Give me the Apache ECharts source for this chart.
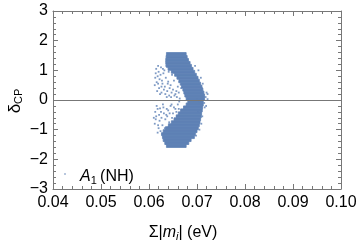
<!DOCTYPE html>
<html><head><meta charset="utf-8">
<script src="https://cdn.jsdelivr.net/npm/echarts@6/dist/echarts.min.js"></script>
<style>html,body{margin:0;padding:0;background:#fff}#c{width:360px;height:241px}</style>
</head><body><div id="c"></div>
<script>
// axis ticks
const xTickValues = [0.04, 0.05, 0.06, 0.07, 0.08, 0.09, 0.10];
const yTickValues = [-3, -2, -1, 0, 1, 2, 3];
// dense part of the scatter cloud, read row by row (delta, x from, x to)
const rowDelta = [1.55,1.45,1.35,1.25,1.15,1.05,0.95,0.85,0.75,0.65,0.55,0.45,0.35,0.25,0.15,0.05,
  -0.05,-0.15,-0.25,-0.35,-0.45,-0.55,-0.65,-0.75,-0.85,-0.95,-1.05,-1.15,-1.25,-1.35,-1.45,-1.55];
const rowXFrom = [0.06363,0.06356,0.06349,0.06349,0.06363,0.06397,0.06466,0.06534,0.06582,0.06623,0.06651,0.06678,0.06705,0.06726,0.06747,0.06774,
  0.06808,0.06774,0.06719,0.06658,0.06610,0.06568,0.06521,0.06466,0.06404,0.06342,0.06295,0.06260,0.06280,0.06295,0.06329,0.06363];
const rowXTo = [0.06774,0.06795,0.06822,0.06856,0.06884,0.06918,0.06952,0.06986,0.07021,0.07048,0.07075,0.07103,0.07123,0.07144,0.07158,0.07158,
  0.07130,0.07130,0.07116,0.07110,0.07096,0.07089,0.07075,0.07062,0.07048,0.07027,0.07000,0.06966,0.06945,0.06877,0.06829,0.06774];
// scattered points outside the dense band
const sparseX = [0.0615,0.0620,0.0625,0.0618,0.0630,0.0622,0.0635,0.0628,0.0616,0.0640,0.0633,0.0621,0.0645,0.0638,0.0626,0.0650,0.0655,0.0642,0.0660,0.0648,0.0652,0.0658,0.0612,0.0632,0.0641,
  0.0614,0.0619,0.0624,0.0627,0.0631,0.0617,0.0623,0.0629,0.0636,0.0639,0.0634,0.0643,0.0647,0.0653,0.0657,0.0662,0.0664,0.0646,0.0637,0.0613,0.0626,0.0619,0.0644,0.0649,0.0663,0.0667,0.0661,
  0.0618,0.0625,0.0615,0.0630,0.0622,0.0636,0.0628,0.0640,0.0645,0.0650,0.0634,0.0612,0.0655,0.0642,0.0620,0.0660,0.0648,0.0613,
  0.0616,0.0621,0.0626,0.0631,0.0637,0.0614,0.0619,0.0624,0.0629,0.0633,0.0638,0.0643,0.0647,0.0652,0.0657,0.0662,0.0663,0.0618,0.0623,0.0641,0.0658,0.0610,
  0.0712,0.0718,0.0705,0.0715,0.0700,0.0722,0.0690,0.0680,0.0720,0.0716,0.0710,0.0702,
  0.0722,0.0719,0.0712,0.0711,0.0708,0.0709,0.0703,0.0705,0.0696,0.0698];
const sparseY = [1.05,0.95,1.10,0.80,0.90,0.70,0.75,0.55,0.60,0.62,0.45,0.40,0.50,0.30,0.25,0.35,0.20,0.15,0.45,0.85,0.65,0.10,0.50,1.00,0.95,
  0.90,1.15,0.85,0.65,0.35,0.30,0.20,1.05,1.15,0.55,0.20,0.40,0.25,0.15,0.30,0.25,0.05,0.10,0.10,0.75,0.45,0.55,1.05,0.95,0.60,0.40,0.80,
  -0.30,-0.40,-0.55,-0.25,-0.70,-0.50,-0.85,-0.35,-0.20,-0.45,-0.65,-0.80,-0.30,-0.75,-0.95,-0.15,-0.60,-0.40,
  -0.20,-0.50,-0.60,-0.45,-0.30,-0.65,-0.85,-1.05,-0.15,-0.95,-0.55,-0.45,-0.15,-0.25,-0.40,-0.30,-0.05,-1.10,-0.28,-0.90,-0.55,-0.60,
  0.05,0.10,-0.05,-0.10,0.02,0.03,-0.03,0.02,0.25,-0.25,0.40,-0.40,
  0.20,-0.20,0.55,-0.55,0.75,-0.80,1.00,-1.00,1.15,-1.20];

const color = '#5E81B5';
const frame = '#777777';
const FONT = 'Liberation Sans';
const chart = echarts.init(document.getElementById('c'), null, {renderer:'canvas'});

const xCommon = {type:'value', min:0.04, max:0.10, interval:0.01,
  axisLine:{onZero:false, lineStyle:{color:frame}}, splitLine:{show:false},
  axisTick:{inside:true, length:5, lineStyle:{color:frame}},
  minorTick:{show:true, splitNumber:5, length:3, lineStyle:{color:frame}}};
const yCommon = {type:'value', min:-3, max:3, interval:1,
  axisLine:{onZero:false, lineStyle:{color:frame}}, splitLine:{show:false},
  axisTick:{inside:true, length:5, lineStyle:{color:frame}},
  minorTick:{show:true, splitNumber:5, length:3, lineStyle:{color:frame}}};

chart.setOption({
  animation:false,
  grid:{left:53, right:19, top:11, bottom:52},
  xAxis:[
    Object.assign({}, xCommon, {position:'bottom',
      axisLabel:{margin:6, fontFamily:FONT, fontSize:16, color:'#000',
        formatter:v=>{const m=xTickValues.find(t=>Math.abs(t-v)<1e-9); return (m!==undefined?m:v).toFixed(2);}}}),
    Object.assign({}, xCommon, {position:'top', axisLabel:{show:false}})
  ],
  yAxis:[
    Object.assign({}, yCommon, {position:'left',
      axisLabel:{margin:5, fontFamily:FONT, fontSize:16, color:'#000',
        formatter:v=>{const m=yTickValues.find(t=>Math.abs(t-v)<1e-9); const n=(m!==undefined?m:v); return n<0?'\u2212'+Math.abs(n):String(n);}}}),
    Object.assign({}, yCommon, {position:'right', axisLabel:{show:false}})
  ],
  series:[
    {type:'custom', xAxisIndex:0, yAxisIndex:0,
      data: rowDelta.map((d,i)=>[d, rowXFrom[i], rowXTo[i]]),
      renderItem:(params, api)=>{
        const d=api.value(0), a=api.value(1), b=api.value(2);
        const p0=api.coord([a, d+0.05]), p1=api.coord([b, d-0.05]);
        return {type:'rect', shape:{x:p0[0], y:p0[1], width:p1[0]-p0[0], height:p1[1]-p0[1]},
          style:{fill:color, stroke:color, lineWidth:0.8}};
      }, z:2},
    {type:'scatter', xAxisIndex:0, yAxisIndex:0, symbol:'rect', symbolSize:1.8,
      itemStyle:{color:color}, data: sparseX.map((x,i)=>[x, sparseY[i]]), z:3,
      markLine:{silent:true, symbol:'none', label:{show:false}, lineStyle:{color:frame, width:1, type:'solid'},
        data:[{yAxis:0}], z:5}}
  ],
  graphic:[
    {type:'circle', shape:{cx:65, cy:174, r:0.8}, style:{fill:color}},
    {type:'text', x:80, y:177, style:{
      text:'{i|A}{s|1} {n|(NH)}', verticalAlign:'middle', textAlign:'left',
      rich:{i:{fontFamily:FONT, fontSize:16, fontStyle:'italic', fill:'#000'},
            s:{fontFamily:FONT, fontSize:11, fill:'#000', padding:[8,0,0,0]},
            n:{fontFamily:FONT, fontSize:16, fill:'#000'}}}},
    {type:'text', x:183, y:233, style:{
      text:'{n|\u03A3|}{i|m}{s|i}{n|| (eV)}', verticalAlign:'middle', textAlign:'center',
      rich:{i:{fontFamily:FONT, fontSize:16, fontStyle:'italic', fill:'#000'},
            s:{fontFamily:FONT, fontSize:11, fontStyle:'italic', fill:'#000', padding:[8,0,0,0]},
            n:{fontFamily:FONT, fontSize:16, fill:'#000'}}}},
    {type:'text', x:15, y:101, rotation:Math.PI/2, style:{
      text:'{n|\u03B4}{s|CP}', verticalAlign:'middle', textAlign:'center',
      rich:{n:{fontFamily:FONT, fontSize:17, fill:'#000'},
            s:{fontFamily:FONT, fontSize:11, fill:'#000', padding:[8,0,0,0]}}}}
  ]
});
</script></body></html>
